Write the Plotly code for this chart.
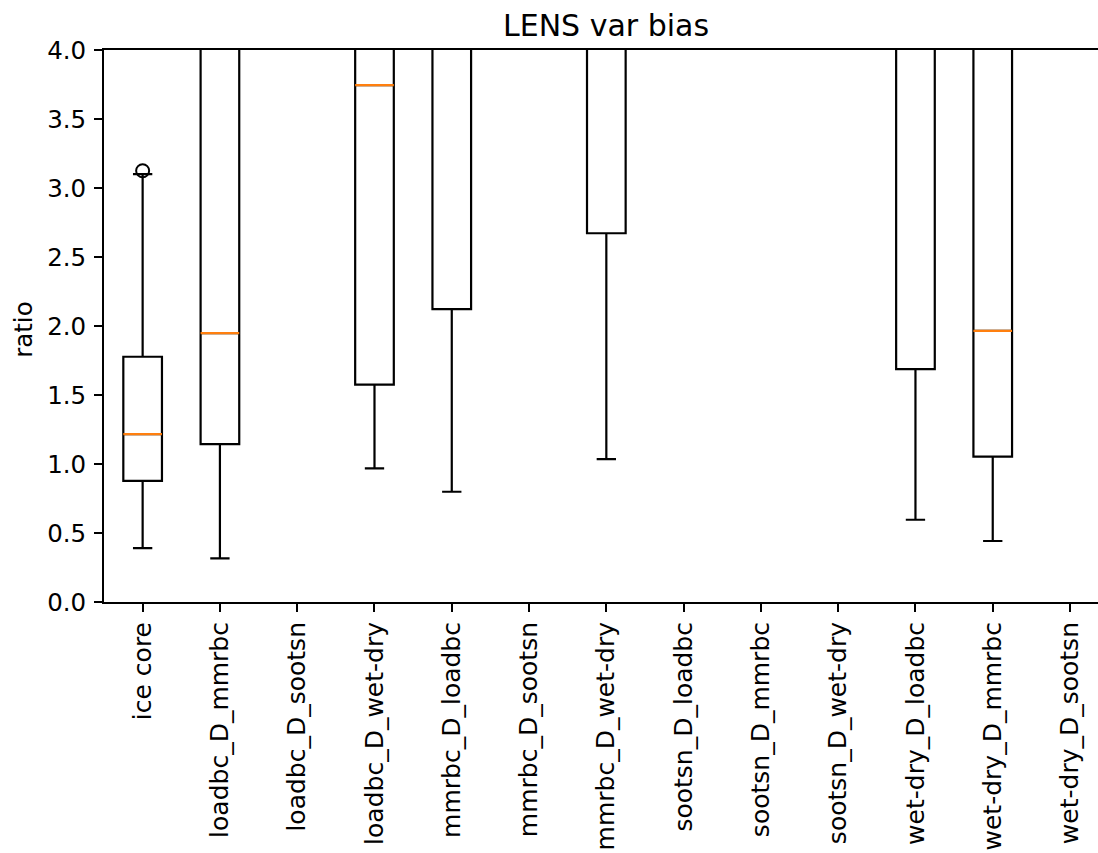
import plotly.graph_objects as go

categories = ["ice core", "loadbc_D_mmrbc", "loadbc_D_sootsn", "loadbc_D_wet-dry",
              "mmrbc_D_loadbc", "mmrbc_D_sootsn", "mmrbc_D_wet-dry", "sootsn_D_loadbc",
              "sootsn_D_mmrbc", "sootsn_D_wet-dry", "wet-dry_D_loadbc", "wet-dry_D_mmrbc",
              "wet-dry_D_sootsn"]
# box statistics (None = no data); values above 4 are off the visible range (estimated)
q1_vals     = [0.878, 1.144, None, 1.575, 2.122, None, 2.672, None, None, None, 1.687, 1.054, None]
median_vals = [1.217, 1.948, None, 3.746, 4.6,   None, 4.9,   None, None, None, 4.4,   1.965, None]
q3_vals     = [1.777, 5.0,   None, 5.5,   6.5,   None, 7.0,   None, None, None, 6.0,   5.2,   None]
low_whisker = [0.391, 0.316, None, 0.968, 0.799, None, 1.035, None, None, None, 0.596, 0.442, None]
high_whisker= [3.101, 9.0,   None, 10.0,  12.0,  None, 13.0,  None, None, None, 11.0,  9.5,   None]
outlier_cat = ["ice core"]
outlier_val = [3.125]

positions = list(range(1, len(categories) + 1))
idx = [i for i in range(len(categories)) if q1_vals[i] is not None]

FONT = "DejaVu Sans, Liberation Sans, sans-serif"
fig = go.Figure()

fig.add_trace(go.Box(
    x=[positions[i] for i in idx],
    q1=[q1_vals[i] for i in idx],
    median=[median_vals[i] for i in idx],
    q3=[q3_vals[i] for i in idx],
    lowerfence=[low_whisker[i] for i in idx],
    upperfence=[high_whisker[i] for i in idx],
    width=0.5, whiskerwidth=0.5,
    line=dict(color="black", width=2.2),
    fillcolor="rgba(255,255,255,0)",
    boxpoints=False, showlegend=False, hoverinfo="skip",
))

# orange median lines
mx, my = [], []
for i in idx:
    p = positions[i]
    mx += [p - 0.25, p + 0.25, None]
    my += [median_vals[i], median_vals[i], None]
fig.add_trace(go.Scatter(x=mx, y=my, mode="lines",
                         line=dict(color="#ff7f0e", width=2.2),
                         showlegend=False, hoverinfo="skip"))

# outliers
fig.add_trace(go.Scatter(
    x=[positions[categories.index(c)] for c in outlier_cat], y=outlier_val,
    mode="markers",
    marker=dict(symbol="circle-open", size=13, color="black", line=dict(width=2, color="black")),
    showlegend=False, hoverinfo="skip"))

L, T, B, W, H = 104, 50, 250.7, 1098, 853
plot_h = H - T - B

fig.update_layout(
    template="none",
    width=W, height=H,
    margin=dict(l=L, r=0, t=T, b=B, pad=0, autoexpand=False),
    paper_bgcolor="white", plot_bgcolor="white",
    font=dict(family=FONT, size=25, color="black"),
    xaxis=dict(range=[0.5, 13.362], tickmode="array", tickvals=positions, ticktext=categories,
               tickangle=-90, showgrid=False, zeroline=False, showline=True, linecolor="black",
               linewidth=2, mirror=True, ticks="outside", ticklen=8, tickwidth=2,
               tickcolor="black", tickfont=dict(size=25), automargin=False),
    yaxis=dict(range=[0, 4], tickmode="array", tickvals=[0, 0.5, 1, 1.5, 2, 2.5, 3, 3.5, 4],
               ticktext=["0.0", "0.5", "1.0", "1.5", "2.0", "2.5", "3.0", "3.5", "4.0"],
               showgrid=False, zeroline=False, showline=True, linecolor="black", linewidth=2,
               ticks="outside", ticklen=8, tickwidth=2, tickcolor="black",
               tickfont=dict(size=24.5), ticklabelstandoff=3, automargin=False),
    annotations=[
        dict(text="LENS var bias", xref="x", x=7, yref="paper", y=1 + (T - 25) / plot_h,
             xanchor="center", yanchor="middle", showarrow=False,
             font=dict(family=FONT, size=30, color="black")),
        dict(text="ratio", xref="paper", x=(24 - L) / (W - L), yref="paper",
             y=(H - B - 330) / plot_h, xanchor="center", yanchor="middle", textangle=-90,
             showarrow=False, font=dict(family=FONT, size=24.5, color="black")),
    ],
)

fig.write_html("out.html", config={"displayModeBar": False, "staticPlot": True},
               post_script="document.body.style.margin='0';document.body.style.overflow='hidden';")
